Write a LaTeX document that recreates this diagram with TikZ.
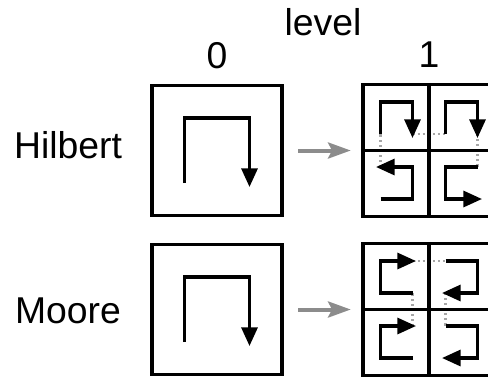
\documentclass[tikz,border=0pt]{standalone}
\usepackage{fontspec}
\setmainfont{Liberation Sans}
\usetikzlibrary{arrows.meta,positioning}

\begin{document}
\begin{tikzpicture}[x=.75pt,y=-.75pt,>={Triangle[length=14pt,width=12pt]},
  every node/.style={font=\fontsize{28pt}{30pt}\selectfont},
  cell/.style={draw,line width=2.4pt,inner sep=0pt,minimum size=#1},
  curve/.style={->,line width=2.4pt},
  link/.style={gray!70,line width=1.9pt,dash pattern=on 1.6pt off 2.2pt},
  refine/.style={-{Stealth[length=17pt,width=12pt,inset=3pt]},black!45,
    line width=3pt,shorten <=11pt,shorten >=8pt}]
  \path[use as bounding box,clip] (0,0) rectangle (488,376);
  % cells of level 0 and 1
  \node[cell=97.5pt] (h0) at (217,150.5) {};
  \node[cell=99pt] (h1) at (429,150.5) {};
  \node[cell=97.5pt] (m0) at (217,309.5) {};
  \node[cell=99pt] (m1) at (429,309.5) {};
  % labels
  \node[anchor=base] (hname) at (68,158) {Hilbert};
  \node[anchor=base] (mname) at (68,323) {Moore};
  \node[above=11pt of h0,inner sep=0pt] (lev0) {0};
  \node[above=11pt of h1,inner sep=0pt] (lev1) {1};
  \node[anchor=base] (level) at (323,35) {level};
  \draw[refine] (h0) -- (h1);
  \draw[refine] (m0) -- (m1);
  % level 0
  \draw[curve] ([shift={(-32.5,32.5)}]h0.center) |- ([shift={(32.5,-32.5)}]h0.center)
    -- ([shift={(32.5,36.5)}]h0.center);
  \draw[curve] ([shift={(-32.5,32.5)}]m0.center) |- ([shift={(32.5,-32.5)}]m0.center)
    -- ([shift={(32.5,36.5)}]m0.center);
  % Hilbert, level 1
  \begin{scope}[shift={(h1.center)}]
    \draw[link] (-48.5,16.5) -- (-48.5,-16.5) (-16.5,-16.5) -- (16.5,-16.5)
      (48.5,-16.5) -- (48.5,16.5);
    \draw[line width=2.4pt] (h1.north) -- (h1.south) (h1.west) -- (h1.east);
    \draw[curve] (-48.5,48.5) -| (-16.5,16.5) -- (-53,16.5);
    \draw[curve] (-48.5,-16.5) |- (-16.5,-48.5) -- (-16.5,-12.5);
    \draw[curve] (16.5,-16.5) |- (48.5,-48.5) -- (48.5,-12.5);
    \draw[curve] (48.5,16.5) -| (16.5,48.5) -- (53,48.5);
  \end{scope}
  % Moore, level 1
  \begin{scope}[shift={(m1.center)}]
    \draw[link] (-16.5,16.5) -- (-16.5,-16.5) (-16.5,-48.5) -- (16.5,-48.5)
      (16.5,-16.5) -- (16.5,16.5);
    \draw[line width=2.4pt] (m1.north) -- (m1.south) (m1.west) -- (m1.east);
    \draw[curve] (-16.5,48.5) -| (-48.5,16.5) -- (-13,16.5);
    \draw[curve] (-16.5,-16.5) -| (-48.5,-48.5) -- (-13,-48.5);
    \draw[curve] (16.5,-48.5) -| (48.5,-16.5) -- (13,-16.5);
    \draw[curve] (16.5,16.5) -| (48.5,48.5) -- (13,48.5);
  \end{scope}
\end{tikzpicture}
\end{document}
